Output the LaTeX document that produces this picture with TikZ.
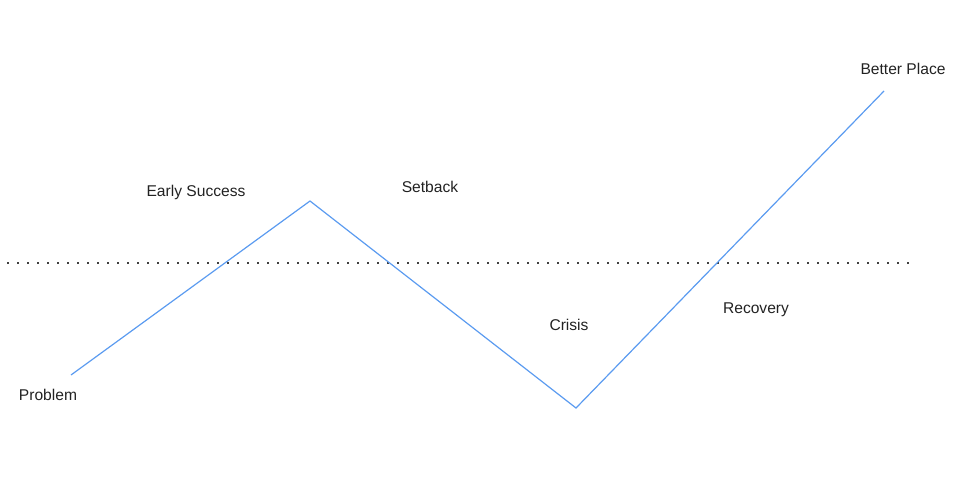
\documentclass[tikz,border=0pt]{standalone}
\usepackage{fontspec}
\setmainfont{Liberation Sans}
\usetikzlibrary{calc}
\definecolor{pathblue}{HTML}{5B9BF0}
\definecolor{labelgray}{HTML}{222222}

\begin{document}
\begin{tikzpicture}[x=1pt,y=-1pt,every node/.style={text=labelgray,font=\fontsize{15.6}{17}\selectfont,inner sep=0pt},
stage/.style={draw=pathblue,line width=1.2pt,line join=miter},
baseline/.style={draw=black!75,line width=1.4pt,dash pattern=on 1.6pt off 8.4pt}
]
\useasboundingbox (0,0) rectangle (976,496);
% turning points of the journey
\coordinate (pA) at (71,375);
\coordinate (pB) at (310,201);
\coordinate (pC) at (576,408);
\coordinate (pD) at (884,91);
\coordinate (lL) at (7,263);
\coordinate (lR) at (912,263);
\draw[baseline] (lL) -- (lR);
\draw[stage] (pA) -- (pB) -- (pC) -- (pD);
% labels
\node (nProblem) at (48,395) {Problem};
\node (nEarly) at (196,192) {Early Success};
\node (nSetback) at (430,187) {Setback};
\node (nCrisis) at (569,325) {Crisis};
\node (nRecovery) at (756,310) {Recovery};
\node (nBetter) at (903,69) {Better Place};
\end{tikzpicture}
\end{document}
